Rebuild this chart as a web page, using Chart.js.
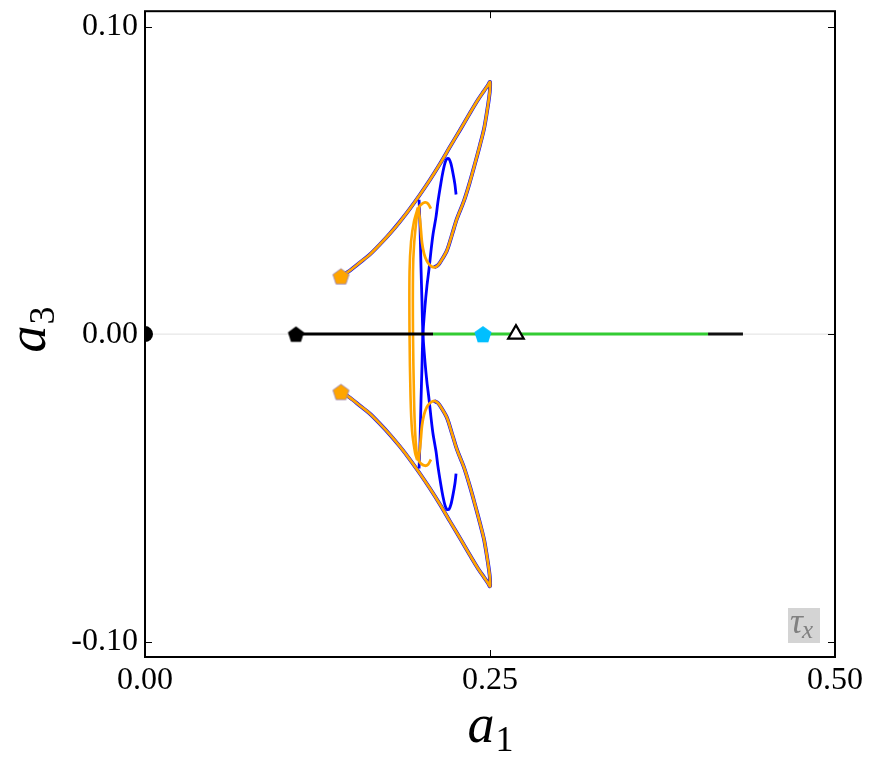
<!DOCTYPE html>
<html><head><meta charset="utf-8">
<script src="https://cdn.jsdelivr.net/npm/chart.js@4.4.0/dist/chart.umd.min.js"></script>
<style>html,body{margin:0;padding:0;background:#fff;}canvas{display:block;}</style>
</head><body>
<canvas id="c" width="875" height="765"></canvas>
<script>
// ---- tick definitions ----
const xTicks = [0, 0.25, 0.5];
const xTickLabels = ['0.00', '0.25', '0.50'];
const yTicks = [-0.1, 0, 0.1];
const yTickLabels = ['-0.10', '0.00', '0.10'];

// ---- outer loops (orange trajectory, blue underneath) ----
const upperLoopA1 = [0.1420,0.1486,0.1558,0.1630,0.1703,0.1775,0.1848,0.1920,0.1993,0.2065,0.2138,0.2210,0.2283,0.2355,0.2413,0.2457,0.2486,0.2500,0.2500,0.2493,0.2478,0.2457,0.2428,0.2391,0.2355,0.2312,0.2261,0.2225,0.2188,0.2152,0.2123,0.2094];
const upperLoopA3 = [0.0188,0.0207,0.0233,0.0259,0.0292,0.0327,0.0366,0.0408,0.0454,0.0502,0.0554,0.0609,0.0664,0.0719,0.0762,0.0791,0.0810,0.0820,0.0797,0.0768,0.0723,0.0668,0.0616,0.0554,0.0496,0.0434,0.0376,0.0324,0.0272,0.0243,0.0224,0.0217];
const lowerLoopA1 = [0.1420,0.1486,0.1558,0.1630,0.1703,0.1775,0.1848,0.1920,0.1993,0.2065,0.2138,0.2210,0.2283,0.2355,0.2413,0.2457,0.2486,0.2500,0.2500,0.2493,0.2478,0.2457,0.2428,0.2391,0.2355,0.2312,0.2261,0.2225,0.2188,0.2152,0.2123,0.2094];
const lowerLoopA3 = [-0.0188,-0.0207,-0.0233,-0.0259,-0.0292,-0.0327,-0.0366,-0.0408,-0.0454,-0.0502,-0.0554,-0.0609,-0.0664,-0.0719,-0.0762,-0.0791,-0.0810,-0.0820,-0.0797,-0.0768,-0.0723,-0.0668,-0.0616,-0.0554,-0.0496,-0.0434,-0.0376,-0.0324,-0.0272,-0.0243,-0.0224,-0.0217];

// ---- orange inner hooks ----
const upperHookA1 = [0.2094,0.2065,0.2043,0.2022,0.2007,0.2000,0.1993,0.1986,0.1986,0.2000,0.2029,0.2051,0.2072];
const upperHookA3 = [0.0217,0.0224,0.0237,0.0262,0.0298,0.0334,0.0369,0.0395,0.0412,0.0421,0.0428,0.0424,0.0408];
const lowerHookA1 = [0.2094,0.2065,0.2043,0.2022,0.2007,0.2000,0.1993,0.1986,0.1986,0.2000,0.2029,0.2051,0.2072];
const lowerHookA3 = [-0.0217,-0.0224,-0.0237,-0.0262,-0.0298,-0.0334,-0.0369,-0.0395,-0.0412,-0.0421,-0.0428,-0.0424,-0.0408];

// ---- orange near-vertical traverses ----
const orangeV1A1 = [0.1978,0.1949,0.1928,0.1917,0.1917,0.1924,0.1935,0.1957,0.1971];
const orangeV1A3 = [0.0412,0.0366,0.0301,0.0204,0.0000,-0.0201,-0.0314,-0.0386,-0.0408];
const orangeV2A1 = [0.1978,0.1964,0.1949,0.1942,0.1942,0.1949,0.1957,0.1967,0.1978];
const orangeV2A3 = [0.0408,0.0360,0.0285,0.0204,0.0000,-0.0201,-0.0314,-0.0379,-0.0412];

// ---- blue inner curves ----
const blueInnerAA1 = [0.1986,0.1993,0.2000,0.2007,0.2014,0.2029,0.2043,0.2058,0.2072,0.2087,0.2109,0.2123,0.2145,0.2159,0.2174,0.2188,0.2203,0.2217,0.2232,0.2246,0.2254];
const blueInnerAA3 = [-0.0437,-0.0347,-0.0217,-0.0107,0.0000,0.0091,0.0156,0.0211,0.0269,0.0324,0.0382,0.0431,0.0493,0.0528,0.0557,0.0570,0.0570,0.0554,0.0522,0.0486,0.0454];
const blueInnerBA1 = [0.1986,0.1993,0.2000,0.2007,0.2014,0.2029,0.2043,0.2058,0.2072,0.2087,0.2109,0.2123,0.2145,0.2159,0.2174,0.2188,0.2203,0.2217,0.2232,0.2246,0.2254];
const blueInnerBA3 = [0.0437,0.0347,0.0217,0.0107,0.0000,-0.0091,-0.0156,-0.0211,-0.0269,-0.0324,-0.0382,-0.0431,-0.0493,-0.0528,-0.0557,-0.0570,-0.0570,-0.0554,-0.0522,-0.0486,-0.0454];

// ---- a3 = 0 branch segments ----
const zeroLineA1 = [0, 0.5];
const blackSeg1A1 = [0.1094, 0.2087];
const greenSegA1 = [0.2087, 0.4080];
const blackSeg2A1 = [0.4080, 0.4333];
const axisA3 = [0, 0];

// ---- markers ----
const circleA1 = [0.0];       const circleA3 = [0.0];
const blackPentA1 = [0.1094]; const blackPentA3 = [0.0];
const cyanPentA1 = [0.2449];  const cyanPentA3 = [0.0];
const triA1 = [0.2688];       const triA3 = [0.0];
const orangePentA1 = [0.1420, 0.1420];
const orangePentA3 = [0.0188, -0.0188];

const pts = (xs, ys) => xs.map((x, i) => ({x: x, y: ys[i]}));

function pentagon(fill, stroke, r, lw) {
  const s = Math.ceil(2 * r + 4);
  const c = document.createElement('canvas');
  c.width = s; c.height = s;
  const g = c.getContext('2d');
  const cx = s / 2, cy = s / 2 + r * 0.1;
  g.beginPath();
  for (let i = 0; i < 5; i++) {
    const a = -Math.PI / 2 + i * 2 * Math.PI / 5;
    const px = cx + r * Math.cos(a), py = cy + r * Math.sin(a);
    if (i === 0) g.moveTo(px, py); else g.lineTo(px, py);
  }
  g.closePath();
  g.fillStyle = fill; g.fill();
  if (lw > 0) { g.strokeStyle = stroke; g.lineWidth = lw; g.stroke(); }
  return c;
}

const ORANGE = '#ffa500', BLUE = '#0000ff', GREEN = '#33cc33';
const lineDS = (data, color, width, order, tension) => ({
  data: data, showLine: true, borderColor: color, borderWidth: width,
  pointRadius: 0, fill: false, tension: tension === undefined ? 0.3 : tension, order: order,
  borderCapStyle: 'butt', borderJoinStyle: 'round'
});

const datasets = [
  // markers
  {data: pts(circleA1, circleA3), pointStyle: 'circle', pointRadius: 8, backgroundColor: '#000', borderColor: '#000', borderWidth: 0, showLine: false, order: 0, clip: 0},
  {data: pts(blackPentA1, blackPentA3), pointStyle: pentagon('#000', '#000', 8.5, 0), pointRadius: 8, showLine: false, order: 0},
  {data: pts(cyanPentA1, cyanPentA3), pointStyle: pentagon('#00bfff', '#00bfff', 9, 0), pointRadius: 8, showLine: false, order: 0},
  {data: pts(triA1, triA3), pointStyle: 'triangle', pointRadius: 9, backgroundColor: '#fff', borderColor: '#000', borderWidth: 2.2, showLine: false, order: 0},
  {data: pts(orangePentA1, orangePentA3), pointStyle: pentagon(ORANGE, '#8c7fc8', 8.5, 0.8), pointRadius: 8, showLine: false, order: 0},
  // a3 = 0 branches
  lineDS(pts(blackSeg1A1, axisA3), '#000', 3, 1, 0),
  lineDS(pts(greenSegA1, axisA3), GREEN, 3, 1, 0),
  lineDS(pts(blackSeg2A1, axisA3), '#111', 3, 1, 0),
  // orange
  lineDS(pts(upperLoopA1.concat(upperHookA1.slice(1)), upperLoopA3.concat(upperHookA3.slice(1))), ORANGE, 2.8, 2),
  lineDS(pts(lowerLoopA1.concat(lowerHookA1.slice(1)), lowerLoopA3.concat(lowerHookA3.slice(1))), ORANGE, 2.8, 2),
  lineDS(pts(orangeV1A1, orangeV1A3), ORANGE, 2.6, 2),
  lineDS(pts(orangeV2A1, orangeV2A3), ORANGE, 2.6, 2),
  // blue
  lineDS(pts(upperLoopA1, upperLoopA3), BLUE, 3.8, 3),
  lineDS(pts(lowerLoopA1, lowerLoopA3), BLUE, 3.8, 3),
  lineDS(pts(blueInnerAA1, blueInnerAA3), BLUE, 2.8, 3),
  lineDS(pts(blueInnerBA1, blueInnerBA3), BLUE, 2.8, 3),
  // thin zero line
  lineDS(pts(zeroLineA1, axisA3), '#e0e0e0', 1, 4, 0)
];

const SERIF = '"Liberation Serif", "Times New Roman", serif';

const decor = {
  id: 'decor',
  afterDraw(chart) {
    const ctx = chart.ctx, a = chart.chartArea;
    const xs = chart.scales.x, ys = chart.scales.y;
    ctx.save();
    // ticks (inward, all sides)
    ctx.strokeStyle = '#000'; ctx.lineWidth = 1;
    const tl = 7;
    xTicks.forEach(v => {
      const px = Math.round(xs.getPixelForValue(v)) + 0.5;
      ctx.beginPath();
      ctx.moveTo(px, a.bottom); ctx.lineTo(px, a.bottom - tl);
      ctx.moveTo(px, a.top); ctx.lineTo(px, a.top + tl);
      ctx.stroke();
    });
    yTicks.forEach(v => {
      const py = Math.round(ys.getPixelForValue(v)) + 0.5;
      ctx.beginPath();
      ctx.moveTo(a.left, py); ctx.lineTo(a.left + tl, py);
      ctx.moveTo(a.right, py); ctx.lineTo(a.right - tl, py);
      ctx.stroke();
    });
    // frame
    ctx.lineWidth = 2;
    ctx.strokeRect(a.left, a.top, a.right - a.left, a.bottom - a.top);

    // tau box
    const bx = a.right - 47, by = a.bottom - 49, bw = 32, bh = 35;
    ctx.fillStyle = '#d4d4d4';
    ctx.fillRect(bx, by, bw, bh);
    ctx.fillStyle = '#808080';
    ctx.textBaseline = 'alphabetic'; ctx.textAlign = 'left';
    ctx.font = 'italic 36px ' + SERIF;
    ctx.fillText('τ', bx + 2, by + 25);
    const tw = ctx.measureText('τ').width;
    ctx.font = 'italic 25px ' + SERIF;
    ctx.fillText('x', bx + 1 + tw, by + 30);

    // axis labels
    ctx.fillStyle = '#000';
    const drawLabel = (main, sub, cx, base) => {
      ctx.font = 'italic 54px ' + SERIF;
      const wm = ctx.measureText(main).width;
      ctx.font = '36px ' + SERIF;
      const ws = ctx.measureText(sub).width;
      const x0 = cx - (wm + ws) / 2;
      ctx.font = 'italic 54px ' + SERIF;
      ctx.fillText(main, x0, base);
      ctx.font = '36px ' + SERIF;
      ctx.fillText(sub, x0 + wm + 1, base + 9);
    };
    drawLabel('a', '1', (a.left + a.right) / 2, 742);
    ctx.save();
    ctx.translate(45, 330);
    ctx.rotate(-Math.PI / 2);
    drawLabel('a', '3', 0, 0);
    ctx.restore();
    ctx.restore();
  }
};

new Chart(document.getElementById('c'), {
  type: 'scatter',
  data: {datasets: datasets},
  options: {
    responsive: false, animation: false, devicePixelRatio: 1,
    layout: {padding: {top: 9, right: 40, left: 0, bottom: 0}},
    plugins: {legend: {display: false}, tooltip: {enabled: false}},
    events: [],
    scales: {
      x: {
        type: 'linear', min: 0, max: 0.5,
        afterFit: s => { s.height = 108; s.paddingLeft = 0; s.paddingRight = 0; },
        afterBuildTicks: s => { s.ticks = xTicks.map(v => ({value: v})); },
        ticks: {
          callback: v => xTickLabels[xTicks.indexOf(v)],
          font: {family: SERIF, size: 32}, color: '#000', padding: 4, maxRotation: 0, autoSkip: false
        },
        grid: {display: false, drawTicks: false},
        border: {display: false}
      },
      y: {
        type: 'linear', min: -0.105, max: 0.105,
        afterFit: s => { s.width = 145; s.paddingTop = 0; s.paddingBottom = 0; },
        afterBuildTicks: s => { s.ticks = yTicks.map(v => ({value: v})); },
        ticks: {
          callback: v => yTickLabels[yTicks.indexOf(v)],
          font: {family: SERIF, size: 32}, color: '#000', padding: 7, autoSkip: false
        },
        grid: {display: false, drawTicks: false},
        border: {display: false}
      }
    }
  },
  plugins: [decor]
});
</script>
</body></html>
